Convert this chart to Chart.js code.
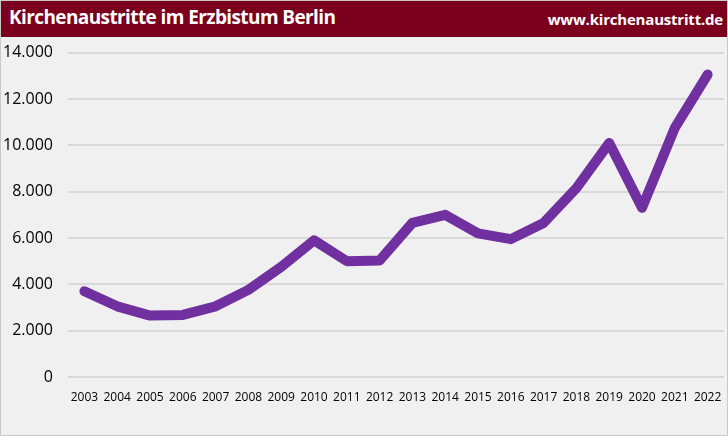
<!DOCTYPE html>
<html>
<head>
<meta charset="utf-8">
<script src="https://cdn.jsdelivr.net/npm/chart.js@4"></script>
<style>
    html, body { margin: 0; padding: 0; background: #ffffff; }
    #frame {
        position: relative;
        width: 728px;
        height: 436px;
        box-sizing: border-box;
        border: 1px solid #c9c9c9;
        background: #f0f0f0;
        overflow: hidden;
    }
    #header {
        position: absolute;
        left: 0; top: 0;
        width: 726px;
        height: 36px;
        background: #7a001d;
        color: #ffffff;
        font-family: "Open Sans", "Noto Sans", sans-serif;
        font-weight: bold;
        z-index: 2;
    }
    #title { position: absolute; left: 8px; top: 3px; font-size: 19px; letter-spacing: -0.6px; }
    #url { position: absolute; right: 4px; top: 8px; font-size: 15px; letter-spacing: -0.2px; }
    /* canvas reicht unter den Kopf, damit die oberste Gitterlinie passt */
    #chartBox { position: absolute; left: 0; top: 27px; width: 726px; height: 407px; z-index: 1; }
</style>
</head>
<body>
<div id="frame">
    <div id="header">
        <span id="title">Kirchenaustritte im Erzbistum Berlin</span>
        <span id="url">www.kirchenaustritt.de</span>
    </div>
    <div id="chartBox"><canvas id="lineChart"></canvas></div>
</div>
<script>
// Daten
const years = ['2003', '2004', '2005', '2006', '2007', '2008', '2009', '2010', '2011', '2012',
               '2013', '2014', '2015', '2016', '2017', '2018', '2019', '2020', '2021', '2022'];
const austritte = [3700, 3050, 2650, 2680, 3050, 3760, 4750, 5900, 5000, 5030,
                   6650, 7000, 6200, 5950, 6650, 8150, 10100, 7300, 10750, 13050];

// Zahlen mit Punkt als Tausendertrennzeichen
function formatNumber(v) {
    return v.toString().replace(/\B(?=(\d{3})+(?!\d))/g, '.');
}

const ctx = document.getElementById('lineChart');

new Chart(ctx, {
    type: 'line',
    data: {
        labels: years,
        datasets: [{
            label: 'Kirchenaustritte',
            data: austritte,
            borderColor: '#7030a0',
            borderWidth: 10,
            borderJoinStyle: 'round',
            borderCapStyle: 'round',
            pointRadius: 0,
            tension: 0,
            fill: false
        }]
    },
    options: {
        responsive: true,
        maintainAspectRatio: false,
        animation: false,
        layout: {
            padding: { top: 0, right: 3, bottom: 0, left: 0 }
        },
        plugins: {
            legend: { display: false },
            tooltip: { enabled: false }
        },
        scales: {
            x: {
                offset: true,
                grid: { display: false },
                border: { display: false },
                ticks: {
                    color: '#000000',
                    font: { family: 'Open Sans', size: 12 },
                    maxRotation: 0,
                    autoSkip: false,
                    padding: 5
                },
                afterFit: (axis) => { axis.height = 58; }
            },
            y: {
                min: 0,
                max: 14000,
                grid: { color: '#d9d9d9', lineWidth: 2, drawTicks: false },
                border: { display: false },
                ticks: {
                    stepSize: 2000,
                    color: '#000000',
                    font: { family: 'Open Sans', size: 16 },
                    padding: 15,
                    callback: (v) => formatNumber(v)
                },
                afterFit: (axis) => { axis.width = 67; }
            }
        }
    }
});
</script>
</body>
</html>
